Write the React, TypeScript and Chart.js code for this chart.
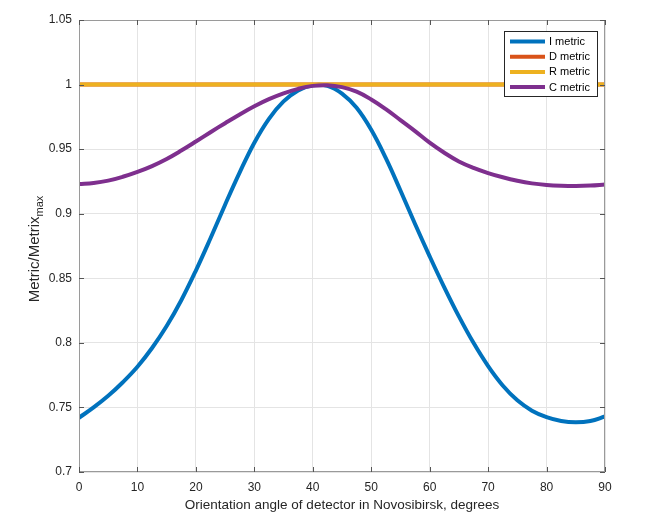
import React, { useEffect, useRef } from "react";
import { Chart, registerables } from "chart.js";

Chart.register(...registerables);

const angles = [0, 2.5, 5, 7.5, 10, 12.5, 15, 17.5, 20, 22.5, 25, 27.5, 30, 32.5, 35, 37.5, 40, 42.5, 45, 47.5, 50, 52.5, 55, 57.5, 60, 62.5, 65, 67.5, 70, 72.5, 75, 77.5, 80, 82.5, 85, 87.5, 90];
const iMetric = [0.742, 0.75, 0.759, 0.7695, 0.7815, 0.796, 0.813, 0.833, 0.856, 0.881, 0.907, 0.932, 0.955, 0.9735, 0.987, 0.9955, 0.9995, 0.999, 0.993, 0.982, 0.965, 0.943, 0.918, 0.892, 0.867, 0.843, 0.8205, 0.8, 0.782, 0.767, 0.7555, 0.7475, 0.7425, 0.7395, 0.7385, 0.7395, 0.743];
const dMetric = [1, 1, 1, 1, 1, 1, 1, 1, 1, 1, 1, 1, 1, 1, 1, 1, 1, 1, 1, 1, 1, 1, 1, 1, 1, 1, 1, 1, 1, 1, 1, 1, 1, 1, 1, 1, 1];
const rMetric = [1, 1, 1, 1, 1, 1, 1, 1, 1, 1, 1, 1, 1, 1, 1, 1, 1, 1, 1, 1, 1, 1, 1, 1, 1, 1, 1, 1, 1, 1, 1, 1, 1, 1, 1, 1, 1];
const cMetric = [0.923, 0.9238, 0.9256, 0.9286, 0.9324, 0.9369, 0.9424, 0.9489, 0.9559, 0.9631, 0.9701, 0.9769, 0.9832, 0.9887, 0.9932, 0.9967, 0.999, 0.9995, 0.998, 0.9945, 0.9885, 0.981, 0.9725, 0.964, 0.955, 0.9472, 0.9405, 0.9355, 0.9315, 0.9282, 0.9255, 0.9235, 0.9223, 0.9217, 0.9215, 0.9218, 0.9226];

const seriesLabels = ["I metric", "D metric", "R metric", "C metric"];
const seriesColors = ["#0072BD", "#D95319", "#EDB120", "#7E2F8E"];
const xTitle = "Orientation angle of detector in Novosibirsk, degrees";
const yTitleMain = "Metric/Metrix";
const yTitleSub = "max";

const FONT = "'Liberation Sans', Arial, Helvetica, sans-serif";

const framePlugin = {
  id: "frame",
  afterDraw(chart: any) {
    const { ctx, chartArea } = chart;
    const { left, right, top, bottom } = chartArea;
    const xs = chart.scales.x;
    const ys = chart.scales.y;
    ctx.save();
    // box
    ctx.strokeStyle = "#9a9a9a";
    ctx.lineWidth = 1;
    ctx.strokeRect(left + 0.5, top + 0.5, right - left - 1, bottom - top - 1);
    // inward ticks
    ctx.strokeStyle = "#555555";
    const tl = 5;
    ctx.beginPath();
    ys.ticks.forEach((t: any) => {
      const y = Math.round(ys.getPixelForValue(t.value)) + 0.5;
      ctx.moveTo(left, y);
      ctx.lineTo(left + tl, y);
      ctx.moveTo(right, y);
      ctx.lineTo(right - tl, y);
    });
    xs.ticks.forEach((t: any) => {
      const x = Math.round(xs.getPixelForValue(t.value)) + 0.5;
      ctx.moveTo(x, bottom);
      ctx.lineTo(x, bottom - tl);
      ctx.moveTo(x, top);
      ctx.lineTo(x, top + tl);
    });
    ctx.stroke();

    // y title with subscript
    ctx.fillStyle = "#262626";
    ctx.translate(39, 249);
    ctx.rotate(-Math.PI / 2);
    ctx.font = `15px ${FONT}`;
    const mainW = ctx.measureText(yTitleMain).width;
    ctx.font = `11px ${FONT}`;
    const subW = ctx.measureText(yTitleSub).width;
    const total = mainW + subW;
    ctx.textBaseline = "alphabetic";
    ctx.textAlign = "left";
    ctx.font = `15px ${FONT}`;
    ctx.fillText(yTitleMain, -total / 2, 0);
    ctx.font = `11px ${FONT}`;
    ctx.fillText(yTitleSub, -total / 2 + mainW, 4);
    ctx.setTransform(1, 0, 0, 1, 0, 0);
    ctx.restore();

    // legend
    ctx.save();
    const bx = 504.5, by = 31.5, bw = 93, bh = 65;
    ctx.fillStyle = "#ffffff";
    ctx.fillRect(bx, by, bw, bh);
    ctx.strokeStyle = "#262626";
    ctx.lineWidth = 1;
    ctx.strokeRect(bx, by, bw, bh);
    ctx.font = `11px ${FONT}`;
    ctx.textBaseline = "middle";
    ctx.textAlign = "left";
    chart.data.datasets.forEach((ds: any, i: number) => {
      const y = 41.5 + i * 15.2;
      ctx.strokeStyle = ds.borderColor;
      ctx.lineWidth = 4;
      ctx.beginPath();
      ctx.moveTo(510, y);
      ctx.lineTo(545, y);
      ctx.stroke();
      ctx.fillStyle = "#000000";
      ctx.fillText(ds.label, 549, y + 0.5);
    });
    ctx.restore();
  },
};

export default function App() {
  const ref = useRef<HTMLCanvasElement>(null);
  useEffect(() => {
    const series = [iMetric, dMetric, rMetric, cMetric];
    const chart = new Chart(ref.current!, {
      type: "line",
      data: {
        datasets: series.map((vals, i) => ({
          label: seriesLabels[i],
          data: angles.map((a, j) => ({ x: a, y: vals[j] })),
          borderColor: seriesColors[i],
          backgroundColor: seriesColors[i],
          borderWidth: 4,
          pointRadius: 0,
          tension: 0.4,
          fill: false,
          order: 4 - i,
        })),
      },
      options: {
        responsive: false,
        animation: false,
        devicePixelRatio: 1,
        layout: { padding: { left: 0, right: 42, top: 20, bottom: 0 } },
        plugins: {
          legend: { display: false },
          tooltip: { enabled: false },
        },
        scales: {
          x: {
            type: "linear",
            min: 0,
            max: 90,
            afterFit: (s: any) => {
              s.height = 59;
            },
            ticks: {
              stepSize: 10,
              padding: 8,
              color: "#262626",
              font: { family: FONT, size: 12 },
              maxRotation: 0,
            },
            grid: { color: "#e4e4e4", drawTicks: false, lineWidth: 1 },
            border: { display: false },
            title: {
              display: true,
              text: xTitle,
              color: "#262626",
              font: { family: FONT, size: 13.5 },
              padding: { top: 0, bottom: 18 },
            },
          },
          y: {
            type: "linear",
            min: 0.7,
            max: 1.05,
            afterFit: (s: any) => {
              s.width = 79;
            },
            ticks: {
              stepSize: 0.05,
              padding: 7,
              color: "#262626",
              font: { family: FONT, size: 12 },
              callback: (v: any) => String(Number(Number(v).toFixed(2))),
            },
            grid: { color: "#e4e4e4", drawTicks: false, lineWidth: 1 },
            border: { display: false },
          },
        },
      },
      plugins: [framePlugin],
    });
    return () => chart.destroy();
  }, []);
  return (
    <div style={{ position: "absolute", left: 0, top: 0, width: 647, height: 531, background: "#fff" }}>
      <canvas ref={ref} width={647} height={531} style={{ display: "block" }} />
    </div>
  );
}
